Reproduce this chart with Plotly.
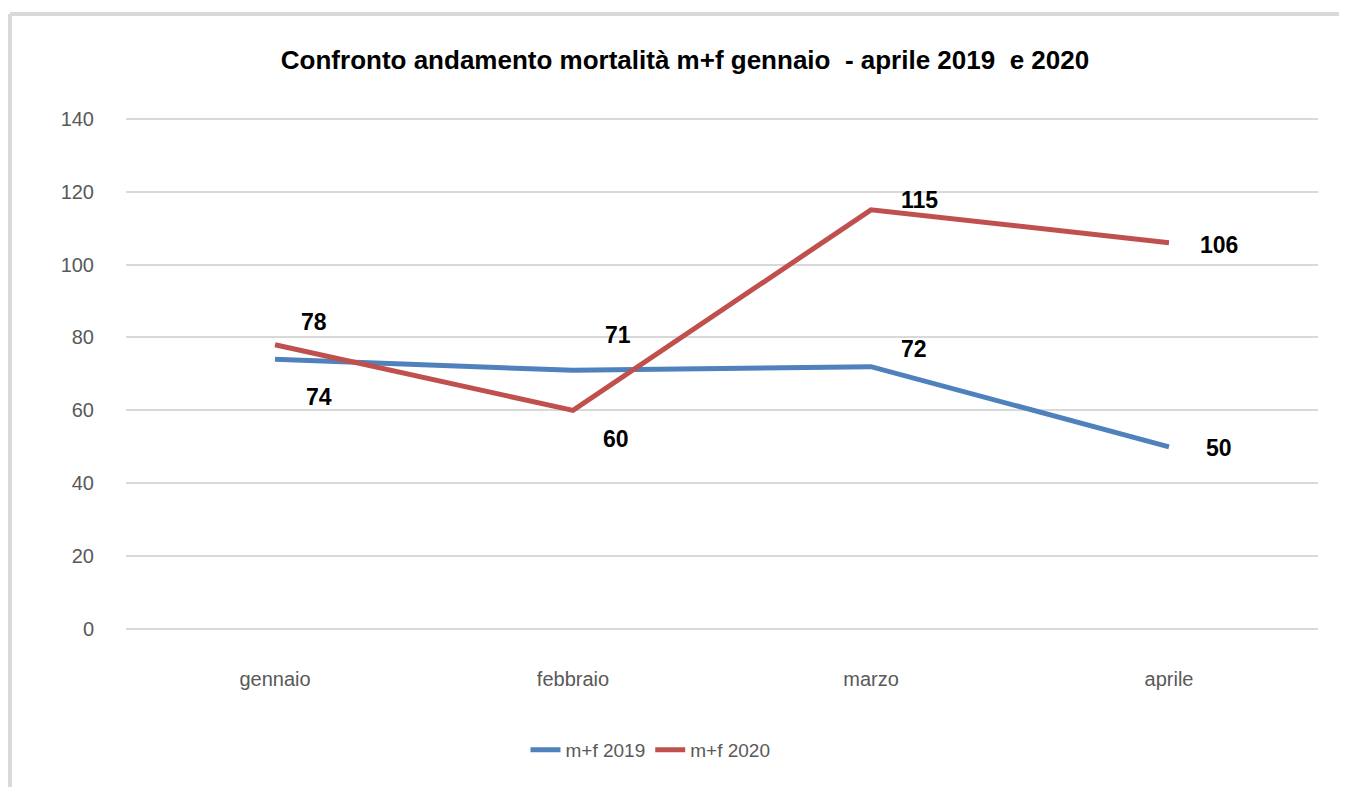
import plotly.graph_objects as go

# Dati
mesi = ['gennaio', 'febbraio', 'marzo', 'aprile']
mf_2019 = [74, 71, 72, 50]
mf_2020 = [78, 60, 115, 106]

# spostamento etichette (pixel) per ogni punto
shift_2019 = [(44, 38), (45, -35), (43, -18), (50, 1)]
shift_2020 = [(39, -23), (43, 29), (48, -10), (50, 2)]

BLU = '#4f81bd'
ROSSO = '#c0504d'
GRIGIO = '#d9d9d9'
FONT = 'Liberation Sans, Arial, sans-serif'


def crea_grafico():
    fig = go.Figure()
    fig.add_trace(go.Scatter(x=mesi, y=mf_2019, mode='lines', name='m+f 2019',
                             line=dict(color=BLU, width=5)))
    fig.add_trace(go.Scatter(x=mesi, y=mf_2020, mode='lines', name='m+f 2020',
                             line=dict(color=ROSSO, width=5)))

    # etichette dati
    for valori, spost in [(mf_2019, shift_2019), (mf_2020, shift_2020)]:
        for m, v, (dx, dy) in zip(mesi, valori, spost):
            fig.add_annotation(x=m, y=v, text=str(v), showarrow=False,
                               xshift=dx, yshift=-dy,
                               font=dict(family=FONT, size=23, color='black', weight='bold'))

    # la pagina ha 8px di margine: le posizioni sono compensate
    fig.update_layout(
        width=1347, height=787,
        paper_bgcolor='white', plot_bgcolor='white',
        margin=dict(l=118, r=37, t=107, b=165),
        title=dict(text='Confronto andamento mortalità m+f gennaio  - aprile 2019  e 2020',
                   xref='container', x=0.5026, xanchor='center',
                   yref='container', y=0.934, yanchor='middle',
                   font=dict(family=FONT, size=26, color='black', weight='bold')),
        xaxis=dict(range=[-0.5, 3.5], showgrid=False, showline=False, ticks='',
                   ticklabelstandoff=35,
                   tickfont=dict(family=FONT, size=20, color='#595959')),
        yaxis=dict(range=[-0.2, 141], tickvals=list(range(0, 141, 20)),
                   showgrid=True, gridcolor=GRIGIO, gridwidth=2,
                   zeroline=True, zerolinecolor=GRIGIO, zerolinewidth=2,
                   ticks='', ticklabelstandoff=31,
                   tickfont=dict(family=FONT, size=20, color='#595959')),
        legend=dict(orientation='h', x=0.44, xanchor='center', y=-0.233, yanchor='middle',
                    font=dict(family=FONT, size=19, color='#595959')),
        showlegend=True,
    )

    # cornice del grafico (solo bordo superiore e sinistro visibili)
    fig.add_shape(type='line', xref='paper', yref='paper',
                  x0=-0.0973, x1=1.05, y0=1.196, y1=1.196,
                  line=dict(color=GRIGIO, width=4))
    fig.add_shape(type='line', xref='paper', yref='paper',
                  x0=-0.0973, x1=-0.0973, y0=1.196, y1=-0.35,
                  line=dict(color=GRIGIO, width=4))
    return fig


if __name__ == "__main__":
    fig = crea_grafico()
    fig.write_html("out.html")
